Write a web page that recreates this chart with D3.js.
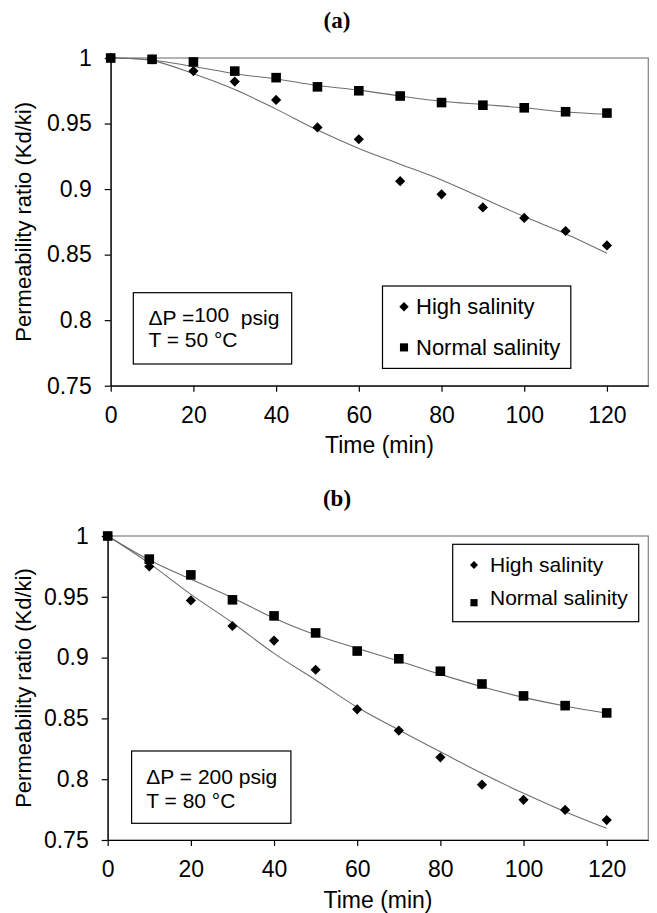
<!DOCTYPE html>
<html>
<head>
<meta charset="utf-8">
<script src="https://cdn.jsdelivr.net/npm/d3@7"></script>
<style>
body { margin: 0; background: #fff; }
text { font-family: "Liberation Sans", Arial, sans-serif; fill: #000; }
</style>
</head>
<body>
<svg id="chart" width="657" height="913"></svg>
<script>
// values
let times = [0, 10, 20, 30, 40, 50, 60, 70, 80, 90, 100, 110, 120]
let xTicks = [0, 20, 40, 60, 80, 100, 120]
let yTicks = [0.75, 0.8, 0.85, 0.9, 0.95, 1]
let seriesNames = ["High salinity", "Normal salinity"]

// panel (a): dP = 100 psig, T = 50 C
let highA = [1, 0.999, 0.990, 0.982, 0.968, 0.947, 0.938, 0.906, 0.896, 0.886, 0.878, 0.868, 0.857]
let normalA = [1, 0.999, 0.997, 0.990, 0.985, 0.978, 0.975, 0.971, 0.966, 0.964, 0.962, 0.959, 0.958]
let highFitA = [1, 0.998, 0.988, 0.976, 0.961, 0.945, 0.931, 0.919, 0.907, 0.893, 0.879, 0.866, 0.851]
let normalFitA = [1, 0.9985, 0.9935, 0.988, 0.984, 0.979, 0.9755, 0.971, 0.967, 0.9645, 0.962, 0.9588, 0.9571]

// panel (b): dP = 200 psig, T = 80 C
let highB = [1, 0.975, 0.947, 0.926, 0.914, 0.890, 0.8575, 0.840, 0.818, 0.7955, 0.783, 0.7747, 0.7664]
let normalB = [1, 0.981, 0.968, 0.9475, 0.9343, 0.9203, 0.9054, 0.899, 0.8888, 0.8783, 0.8685, 0.8605, 0.8545]
let highFitB = [1, 0.9775, 0.952, 0.9287, 0.9035, 0.8816, 0.8591, 0.8405, 0.8226, 0.8048, 0.7884, 0.7733, 0.7596]
let normalFitB = [1, 0.9803, 0.9644, 0.9493, 0.9323, 0.9186, 0.9076, 0.8972, 0.8862, 0.8761, 0.8673, 0.8602, 0.8542]

let noteA = [[["\u0394P =", 0], ["100", -3], ["\u00a0\u00a0psig", 3]], [["T = 50 \u00b0C", 0]]]
let noteB = [[["\u0394P = 200 psig", 0]], [["T = 80 \u00b0C", 0]]]

let svg = d3.select("#chart")
svg.append("rect").attr("width", 657).attr("height", 913).attr("fill", "#fff")

let panels = [
  {
    title: "(a)", titleY: 27.5,
    left: 110.7, right: 648.3, top: 58, bottom: 385.7,
    high: highA, normal: normalA, highFit: highFitA, normalFit: normalFitA,
    note: { x: 133.3, y: 292.7, w: 158.4, h: 71.3, tx: 148.4, lines: noteA, base: [324.5, 346.5] },
    legend: { x: 382.5, y: 286, w: 188.3, h: 82.4, mx: 21.5, tx: 33.5, rows: [20.7, 61.4], base: [27.5, 68.5], dia: 44, sq: 66, font: 22 }
  },
  {
    title: "(b)", titleY: 506,
    left: 107.7, right: 648.3, top: 536, bottom: 840,
    high: highB, normal: normalB, highFit: highFitB, normalFit: normalFitB,
    note: { x: 131.6, y: 751, w: 159.3, h: 72.3, tx: 146.3, lines: noteB, base: [784, 807.5] },
    legend: { x: 452.7, y: 544.3, w: 186, h: 77.4, mx: 21.3, tx: 37.3, rows: [20.7, 58.4], base: [28, 60.7], dia: 32, sq: 52, font: 21 }
  }
]

let diamond = (size) => d3.symbol().type(d3.symbolSquare).size(size)()
let square = (size) => d3.symbol().type(d3.symbolSquare).size(size)()

let drawPanel = (p) => {
  let x = d3.scaleLinear().domain([0, 130]).range([p.left, p.right])
  let y = d3.scaleLinear().domain([0.75, 1]).range([p.bottom, p.top])

  // title
  svg.append("text")
    .attr("x", 337).attr("y", p.titleY)
    .attr("text-anchor", "middle")
    .style("font-family", "'Liberation Serif', 'Times New Roman', serif")
    .style("font-weight", "bold")
    .style("font-size", "23px")
    .text(p.title)

  // plot area border
  svg.append("rect")
    .attr("x", p.left).attr("y", p.top)
    .attr("width", p.right - p.left).attr("height", p.bottom - p.top)
    .attr("fill", "none").attr("stroke", "#808080").attr("stroke-width", 1.2)

  let yAxis = svg.append("g")
    .attr("transform", `translate(${p.left},0)`)
    .call(d3.axisLeft(y).tickValues(yTicks).tickSize(6).tickSizeOuter(0).tickPadding(13).tickFormat(d3.format("")))
  let xAxis = svg.append("g")
    .attr("transform", `translate(0,${p.bottom})`)
    .call(d3.axisBottom(x).tickValues(xTicks).tickSize(6).tickSizeOuter(0).tickPadding(15))
  for (let ax of [yAxis, xAxis]) {
    ax.attr("font-family", null).attr("font-size", null)
    ax.selectAll("text").style("font-size", "23px")
    ax.selectAll("path, line").attr("stroke", "#000").attr("stroke-width", 1.2)
  }

  // axis titles
  svg.append("text")
    .attr("x", (p.left + p.right) / 2).attr("y", p.bottom + 67.5)
    .attr("text-anchor", "middle")
    .style("font-size", "23px")
    .text("Time (min)")
  svg.append("text")
    .attr("transform", `translate(31,${(p.top + p.bottom) / 2}) rotate(-90)`)
    .attr("text-anchor", "middle")
    .style("font-size", "22px")
    .text("Permeability ratio (Kd/ki)")

  // fitted trend lines
  let line = d3.line()
    .x((d, i) => x(times[i]))
    .y((d) => y(d))
    .curve(d3.curveCatmullRom)
  for (let fit of [p.highFit, p.normalFit]) {
    svg.append("path")
      .attr("d", line(fit))
      .attr("fill", "none")
      .attr("stroke", "#6e6e6e")
      .attr("stroke-width", 1.1)
  }

  // markers
  svg.append("g").selectAll("path")
    .data(p.normal)
    .enter()
    .append("path")
    .attr("d", square(92))
    .attr("transform", (d, i) => `translate(${x(times[i])},${y(d)})`)
    .attr("fill", "#000")
  svg.append("g").selectAll("path")
    .data(p.high)
    .enter()
    .append("path")
    .attr("d", diamond(52))
    .attr("transform", (d, i) => `translate(${x(times[i])},${y(d)}) rotate(45)`)
    .attr("fill", "#000")

  // condition box
  let n = p.note
  svg.append("rect")
    .attr("x", n.x).attr("y", n.y).attr("width", n.w).attr("height", n.h)
    .attr("fill", "#fff").attr("stroke", "#000").attr("stroke-width", 1.2)
  n.lines.forEach((parts, i) => {
    let t = svg.append("text")
      .attr("x", n.tx).attr("y", n.base[i])
      .style("font-size", "21px")
      .style("white-space", "pre")
    parts.forEach(([s, dy]) => {
      t.append("tspan").attr("dy", dy).text(s)
    })
  })

  // legend
  let l = p.legend
  let lg = svg.append("g").attr("transform", `translate(${l.x},${l.y})`)
  lg.append("rect")
    .attr("width", l.w).attr("height", l.h)
    .attr("fill", "#fff").attr("stroke", "#000").attr("stroke-width", 1.2)
  seriesNames.forEach((name, i) => {
    if (i === 0) {
      lg.append("path").attr("d", diamond(l.dia))
        .attr("transform", `translate(${l.mx},${l.rows[i]}) rotate(45)`)
    } else {
      lg.append("path").attr("d", square(l.sq))
        .attr("transform", `translate(${l.mx},${l.rows[i]})`)
    }
    lg.append("text")
      .attr("x", l.tx).attr("y", l.base[i])
      .style("font-size", l.font + "px")
      .text(name)
  })
}

panels.forEach(drawPanel)
</script>
</body>
</html>
